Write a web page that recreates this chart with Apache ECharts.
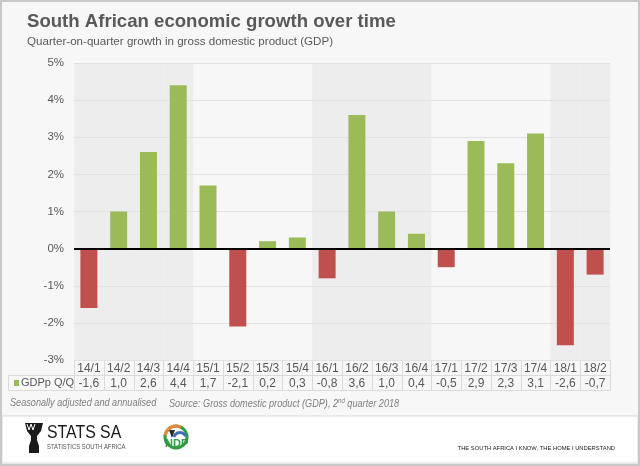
<!DOCTYPE html>
<html><head><meta charset="utf-8">
<script src="https://cdn.jsdelivr.net/npm/echarts@6/dist/echarts.min.js"></script>
<style>html,body{margin:0;padding:0;background:#f7f7f7;}#c{width:640px;height:466px;}</style>
</head><body><div id="c"></div>
<script>
var categories = ['14/1','14/2','14/3','14/4','15/1','15/2','15/3','15/4','16/1','16/2','16/3','16/4','17/1','17/2','17/3','17/4','18/1','18/2'];
var gdpValues = [-1.6,1.0,2.6,4.4,1.7,-2.1,0.2,0.3,-0.8,3.6,1.0,0.4,-0.5,2.9,2.3,3.1,-2.6,-0.7];
var shadedYears = ['14','16','18'];
var yTicks = {min:-3, max:5, interval:1};
var seriesName = 'GDPp Q/Q';

var GREEN = '#9bbb59', RED = '#c0504d', TXT = '#595959';
var FONT = '"Liberation Sans", Arial, sans-serif';
var NARROW = '"Liberation Sans Narrow", "Arial Narrow", "Liberation Sans", sans-serif';

var chart = echarts.init(document.getElementById('c'));
function fmt(v){ return v.toFixed(1).replace('.', ','); }

var barData = gdpValues.map(function(v){
  return {value: v, itemStyle: {color: v >= 0 ? GREEN : RED}};
});
var shadeData = categories.map(function(c){
  return shadedYears.indexOf(c.split('/')[0]) >= 0 ? 1 : '-';
});

var staticGraphic = [
  {type:'rect', id:'footerbg', shape:{x:2,y:416,width:636,height:47}, style:{fill:'#ffffff', stroke:'#d8d8d8', lineWidth:1}, z:-5, silent:true},
  {type:'rect', id:'frame', shape:{x:1,y:1,width:638,height:464}, style:{fill:'none', stroke:'#c8c8c8', lineWidth:2}, z:100, silent:true},
  {type:'text', id:'title', left:27, top:12, style:{text:'South African economic growth over time', fill:TXT, font:'bold 18.6px '+FONT}},
  {type:'text', id:'sub', left:27, top:36, style:{text:'Quarter-on-quarter growth in gross domestic product (GDP)', fill:TXT, font:'11.6px '+FONT}},
  {type:'rect', id:'legsym', shape:{x:14,y:380,width:5,height:6}, style:{fill:GREEN}},
  {type:'text', id:'leglbl', left:21, top:377, style:{text:seriesName, fill:TXT, font:'11px '+FONT}},
  {type:'text', id:'note1', x:10, y:398, scaleX:0.87, style:{text:'Seasonally adjusted and annualised', fill:'#7f7f7f', font:'italic 10.5px '+FONT}},
  {type:'text', id:'note2', x:169, y:398, scaleX:0.87, style:{
    rich:{n:{fill:'#7f7f7f', font:'italic 10.5px '+FONT}, s:{fill:'#7f7f7f', font:'italic 7px '+FONT, verticalAlign:'top', padding:[0,0,5,0]}},
    text:'{n|Source: Gross domestic product (GDP), 2}{s|nd}{n| quarter 2018}'}},
  // STATS SA icon
  {type:'polygon', id:'ssicon', shape:{points:[[25,423],[43,423],[41,431],[37,436],[37,440],[39,446],[39,453],[29,453],[29,446],[31,440],[31,436],[27,431]]}, style:{fill:'#1a1a1a'}},
  {type:'polyline', id:'ssw', shape:{points:[[27,424],[29,430],[31,424],[33,430],[35,424]]}, style:{stroke:'#ffffff', lineWidth:1, fill:'none'}},
  {type:'text', id:'ss1', x:47, y:424, scaleX:0.88, style:{text:'STATS SA', fill:'#1a1a1a', font:'18px '+FONT}},
  {type:'text', id:'ss2', x:47, y:444, scaleX:0.84, style:{text:'STATISTICS SOUTH AFRICA', fill:'#555', font:'7px '+FONT}},
  // NDP logo
  {type:'circle', id:'ndpc', shape:{cx:176,cy:437,r:11}, style:{fill:'#ffffff', stroke:'#2e9b45', lineWidth:3}},
  {type:'sector', id:'ndpo', shape:{cx:176,cy:437,r:12.5,r0:9.5,startAngle:-Math.PI*0.95,endAngle:-Math.PI*0.35}, style:{fill:'#e8883a'}},
  {type:'polygon', id:'ndpt', shape:{points:[[169,430],[175,430],[172,438]]}, style:{fill:'#2b2b2b'}},
  {type:'sector', id:'ndpb', shape:{cx:180,cy:439,r:8,r0:5,startAngle:-Math.PI*0.9,endAngle:-Math.PI*0.15}, style:{fill:'#3b6fb5'}},
  {type:'text', id:'ndptx', left:165, top:438, style:{text:'NDP', fill:'#2e9b45', font:'bold 11px '+FONT}},
  {type:'text', id:'slogan', right:25, top:445, style:{text:'THE SOUTH AFRICA I KNOW, THE HOME I UNDERSTAND', fill:'#222', font:'5.8px '+FONT}}
];

var option = {
  backgroundColor: '#f7f7f7',
  animation: false,
  grid: {left:74, right:30, top:63, bottom:106},
  xAxis: [
    {type:'category', data:categories, position:'bottom',
     axisLine:{show:false, onZero:false}, axisTick:{show:false},
     axisLabel:{color:TXT, fontSize:12, fontFamily:NARROW, margin:3, interval:0}},
    {type:'category', data:categories, show:false},
    {type:'category', data:categories, position:'bottom', offset:16,
     axisLine:{show:false, onZero:false}, axisTick:{show:false},
     axisLabel:{color:TXT, fontSize:12, fontFamily:NARROW, margin:2, interval:0,
       formatter:function(v, i){ return fmt(gdpValues[i]); }}}
  ],
  yAxis: [
    {type:'value', min:yTicks.min, max:yTicks.max, interval:yTicks.interval,
     axisLine:{show:false}, axisTick:{show:false},
     axisLabel:{formatter:'{value}%', color:TXT, fontSize:11.5, fontFamily:FONT, margin:10},
     splitLine:{lineStyle:{color:'#e2e2e2', width:1}}},
    {type:'value', min:0, max:1, show:false}
  ],
  series: [
    {type:'bar', name:'shade', xAxisIndex:1, yAxisIndex:1, data:shadeData, barWidth:'100%',
     itemStyle:{color:'#ededed'}, z:-1, silent:true},
    {type:'bar', name:seriesName, xAxisIndex:0, yAxisIndex:0, data:barData, barWidth:17, z:3,
     markLine:{silent:true, symbol:'none', label:{show:false},
       lineStyle:{color:'#000', width:2, type:'solid'}, data:[{yAxis:0}]}}
  ],
  graphic: staticGraphic
};
chart.setOption(option);

// table grid lines, positioned from the category axis scale
var c0 = chart.convertToPixel({xAxisIndex:0}, categories[0]);
var c1 = chart.convertToPixel({xAxisIndex:0}, categories[1]);
var bw = c1 - c0;
var leftX = c0 - bw/2;
var rightX = chart.convertToPixel({xAxisIndex:0}, categories[categories.length-1]) + bw/2;
var topY = chart.convertToPixel({yAxisIndex:0}, yTicks.min);
var midY = topY + 15.5, botY = topY + 30.5;
var LC = '#dadada';
var lines = [];
lines.push({type:'line', id:'hmid', shape:{x1:8,y1:midY,x2:rightX,y2:midY}, style:{stroke:LC, lineWidth:1}});
lines.push({type:'line', id:'hbot', shape:{x1:8,y1:botY,x2:rightX,y2:botY}, style:{stroke:LC, lineWidth:1}});
lines.push({type:'line', id:'vleft', shape:{x1:8.5,y1:midY,x2:8.5,y2:botY}, style:{stroke:LC, lineWidth:1}});
for (var i = 0; i <= categories.length; i++) {
  var x = Math.round(leftX + i*bw) + 0.5;
  lines.push({type:'line', id:'v'+i, shape:{x1:x,y1:topY,x2:x,y2:botY}, style:{stroke:LC, lineWidth:1}});
}
chart.setOption({graphic: lines});
</script></body></html>
